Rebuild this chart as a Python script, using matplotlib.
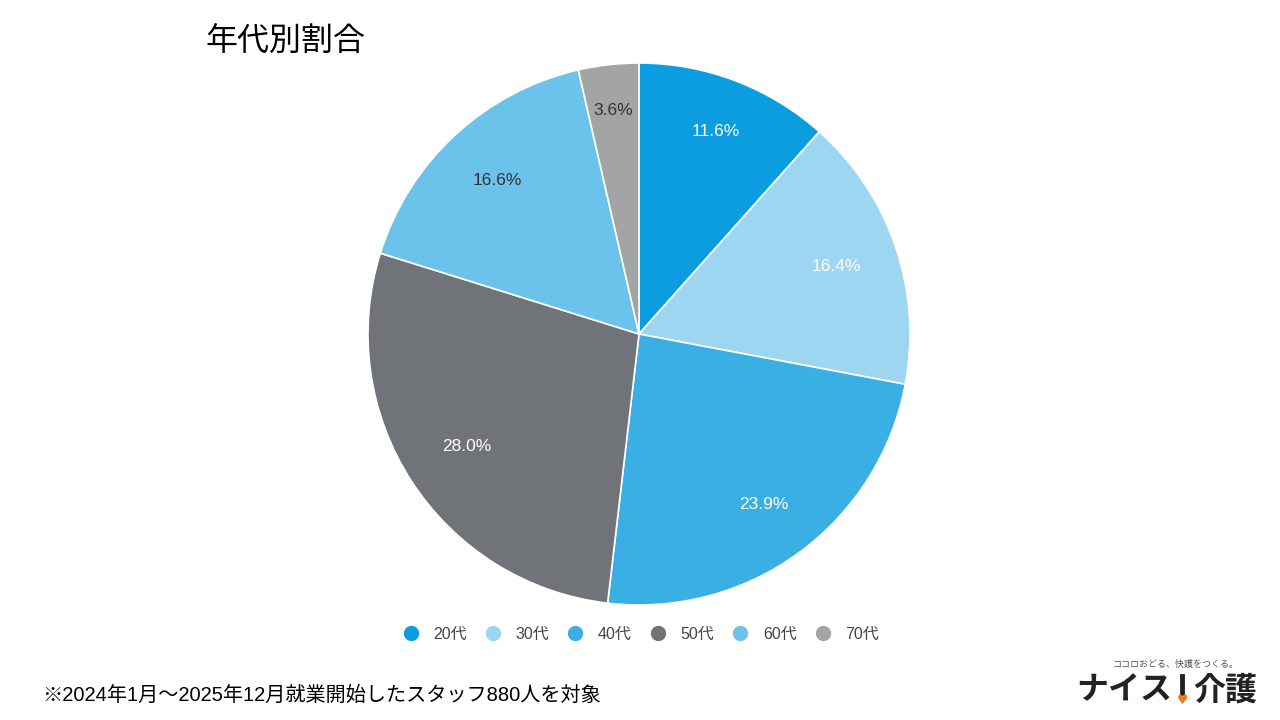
import matplotlib
matplotlib.use('Agg')
import matplotlib.pyplot as plt
from matplotlib.lines import Line2D
import numpy as np

plt.rcParams['font.family'] = ['Liberation Sans', 'Noto Sans CJK JP', 'DejaVu Sans']

# data
labels = ['20代', '30代', '40代', '50代', '60代', '70代']
values = [11.6, 16.4, 23.9, 28.0, 16.6, 3.6]
colors = ['#0b9ddf', '#9dd6f1', '#3aafe4', '#707478', '#6bc3eb', '#a3a4a6']
text_colors = ['white', 'white', 'white', 'white', '#333333', '#333333']
label_dist = [0.80, 0.77, 0.78, 0.76, 0.77, 0.83]

fig = plt.figure(figsize=(12.8, 7.2), dpi=100)
fig.patch.set_facecolor('white')

cx, cy, r = 639, 334, 271
ax = fig.add_axes([(cx - r) / 1280, (720 - cy - r) / 720, 2 * r / 1280, 2 * r / 720])
wedges, texts, autotexts = ax.pie(
    values, colors=colors, startangle=90, counterclock=False,
    autopct='%.1f%%', pctdistance=0.77, radius=1,
    wedgeprops=dict(edgecolor='white', linewidth=1.2),
    textprops=dict(fontsize=12.5))
for w, t, c, d in zip(wedges, autotexts, text_colors, label_dist):
    t.set_color(c)
    ang = np.deg2rad((w.theta1 + w.theta2) / 2)
    t.set_position((d * np.cos(ang), d * np.sin(ang)))
ax.set_xlim(-1, 1)
ax.set_ylim(-1, 1)
ax.set_aspect('equal')
ax.axis('off')

fig.text(205 / 1280, 1 - 42 / 720, '年代別割合', fontsize=23, va='center', ha='left',
         family=['Noto Sans CJK JP'])

handles = [Line2D([], [], marker='o', linestyle='', markersize=10,
                  markerfacecolor=c, markeredgecolor=c) for c in colors]
fig.legend(handles, labels, loc='center', bbox_to_anchor=(640 / 1280, 1 - 634 / 720),
           ncol=6, frameon=False, fontsize=11.5, handletextpad=0.8, columnspacing=1.05,
           handlelength=1.2, labelcolor='#444444')

fig.text(42 / 1280, 1 - 695 / 720, '※2024年1月～2025年12月就業開始したスタッフ880人を対象',
         fontsize=14.5, va='center', ha='left')

# logo
fig.text(1176 / 1280, 1 - 664 / 720, 'ココロおどる、快護をつくる。', fontsize=6.5,
         ha='center', va='center', color='#555555', family=['Noto Sans CJK JP'])
fig.text(1172 / 1280, 1 - 690 / 720, 'ナイス', fontsize=23, fontweight='bold',
         ha='right', va='center', color='#222222', family=['Noto Sans CJK JP'])
fig.add_artist(Line2D([1182 / 1280, 1182 / 1280], [1 - 676 / 720, 1 - 693 / 720],
                      color='#222222', linewidth=3.5, transform=fig.transFigure))
fig.text(1182 / 1280, 1 - 701 / 720, '♥', fontsize=9,
         ha='center', va='center', color='#f07a1a', family=['DejaVu Sans'])
fig.text(1193 / 1280, 1 - 690 / 720, '介護', fontsize=23, fontweight='bold',
         ha='left', va='center', color='#222222', family=['Noto Sans CJK JP'])

fig.savefig('out.png', dpi=100)
